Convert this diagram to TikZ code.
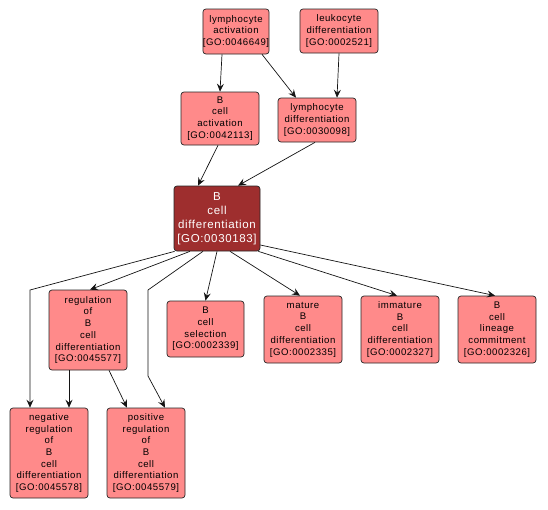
\documentclass[tikz,border=0pt]{standalone}
\usepackage{fontspec}
\newfontfamily\gofont[LetterSpace=5.5]{Liberation Sans}
\usetikzlibrary{arrows.meta,calc}
\definecolor{nodefill}{RGB}{255,138,138}
\definecolor{mainfill}{RGB}{158,46,46}
\definecolor{edgecol}{RGB}{20,20,20}
\begin{document}
\begin{tikzpicture}[x=1pt,y=-1pt,
  go/.style={draw=black!85, fill=nodefill, rounded corners=3pt, align=center,
    font=\gofont\fontsize{9.6}{11.7}\selectfont, inner sep=0pt, line width=0.7pt},
  gomain/.style={go, fill=mainfill, text=white, font=\gofont\fontsize{11.5}{14}\selectfont},
  arr/.style={draw=edgecol, line width=0.7pt, -{Stealth[length=8pt,width=7pt,inset=3pt]}}]
\useasboundingbox (0,0) rectangle (548,509);
\node[go, minimum width=64, minimum height=45] (la) at (236,31.5) {lymphocyte\\activation\\{[GO:0046649]}};
\node[go, minimum width=78, minimum height=44] (lkd) at (339,31) {leukocyte\\differentiation\\{[GO:0002521]}};
\node[go, minimum width=78, minimum height=53] (bca) at (220,118.5) {B\\cell\\activation\\{[GO:0042113]}};
\node[go, minimum width=78, minimum height=44] (ld) at (317,120) {lymphocyte\\differentiation\\{[GO:0030098]}};
\node[gomain, minimum width=86, minimum height=65] (bcd) at (217,218.5) {B\\cell\\differentiation\\{[GO:0030183]}};
\node[go, minimum width=78, minimum height=80] (reg) at (88,330) {regulation\\of\\B\\cell\\differentiation\\{[GO:0045577]}};
\node[go, minimum width=77, minimum height=56] (sel) at (205.5,329) {B\\cell\\selection\\{[GO:0002339]}};
\node[go, minimum width=78, minimum height=67] (mat) at (303,329.5) {mature\\B\\cell\\differentiation\\{[GO:0002335]}};
\node[go, minimum width=78, minimum height=67] (imm) at (400,329.5) {immature\\B\\cell\\differentiation\\{[GO:0002327]}};
\node[go, minimum width=78, minimum height=67] (lin) at (497,329.5) {B\\cell\\lineage\\commitment\\{[GO:0002326]}};
\node[go, minimum width=78, minimum height=90] (neg) at (49,453) {negative\\regulation\\of\\B\\cell\\differentiation\\{[GO:0045578]}};
\node[go, minimum width=78, minimum height=90] (pos) at (146,453) {positive\\regulation\\of\\B\\cell\\differentiation\\{[GO:0045579]}};
\coordinate (n1) at (30,290);
\coordinate (p1) at (148,290);
\coordinate (p2) at (148,376);
\draw[arr] ([xshift=-14]la.south) -- (bca.north);
\draw[arr] ([xshift=26]la.south) -- ([xshift=-21]ld.north);
\draw[arr] (lkd.south) -- ([xshift=20]ld.north);
\draw[arr] ([xshift=-2]bca.south) -- ([xshift=-19]bcd.north);
\draw[arr] ([xshift=-2]ld.south) -- ([xshift=21]bcd.north);
\draw[arr] ([xshift=-27]bcd.south) -- ([xshift=2]reg.north);
\draw[arr] ([xshift=1]bcd.south west) -- (n1) -- (neg.north -| n1);
\draw[arr] ([xshift=-14]bcd.south) -- (p1) -- (p2) -- ([xshift=19]pos.north);
\draw[arr] ([xshift=-19]reg.south) -- ([xshift=20]neg.north);
\draw[arr] ([xshift=21]reg.south) -- ([xshift=-19]pos.north);
\draw[arr] (bcd.south) -- (sel.north);
\draw[arr] ([xshift=13]bcd.south) -- ([xshift=-3]mat.north);
\draw[arr] ([xshift=-2]bcd.south east) -- ([xshift=-3]imm.north);
\draw[arr] ([yshift=-26.5]bcd.east) -- ([xshift=-2]lin.north);
\end{tikzpicture}
\end{document}
